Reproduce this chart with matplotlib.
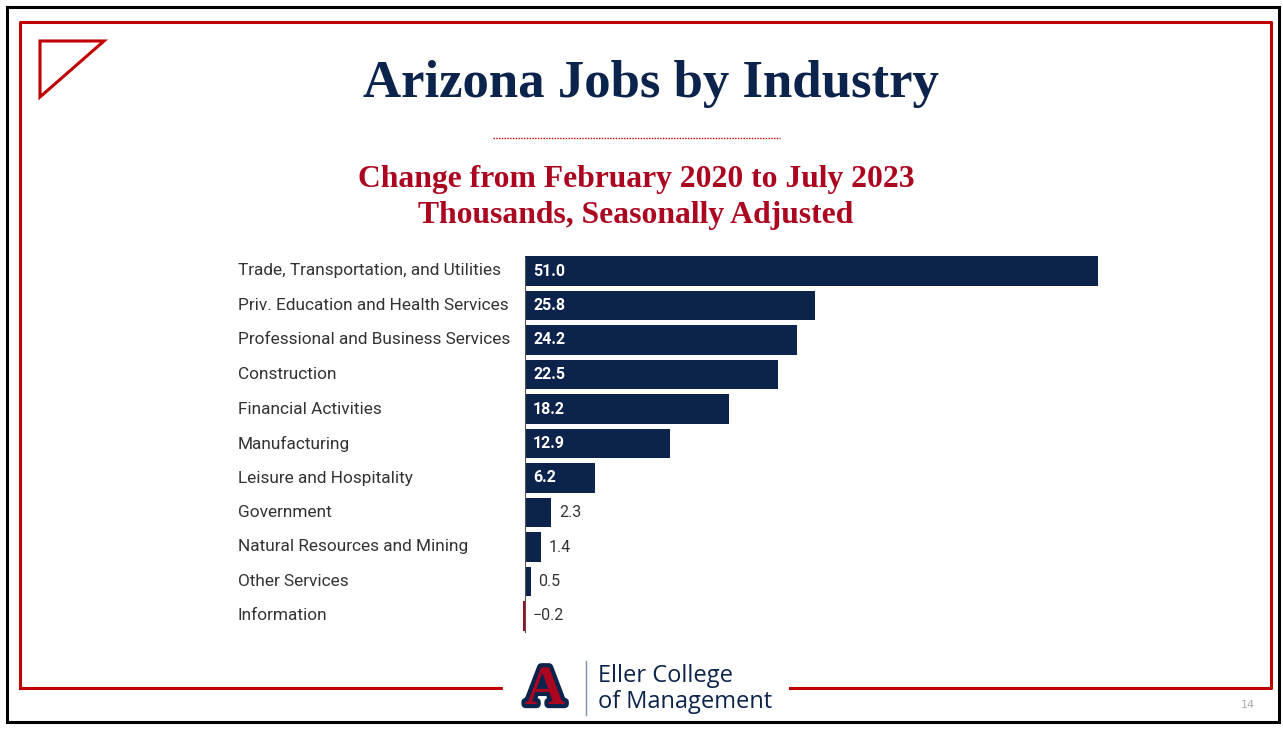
import matplotlib
matplotlib.use("Agg")
import matplotlib.pyplot as plt
import matplotlib.patheffects as pe
from matplotlib.patches import Polygon, Rectangle
from matplotlib.lines import Line2D

# data
industries = ["Trade, Transportation, and Utilities",
              "Priv. Education and Health Services",
              "Professional and Business Services",
              "Construction",
              "Financial Activities",
              "Manufacturing",
              "Leisure and Hospitality",
              "Government",
              "Natural Resources and Mining",
              "Other Services",
              "Information"]
change = [51.0, 25.8, 24.2, 22.5, 18.2, 12.9, 6.2, 2.3, 1.4, 0.5, -0.2]

title = "Arizona Jobs by Industry"
subtitle_1 = "Change from February 2020 to July 2023"
subtitle_2 = "Thousands, Seasonally Adjusted"

NAVY = "#0C234B"
RED = "#C00000"
TITLE_RED = "#AB0520"
W, H = 1283, 730

fig = plt.figure(figsize=(W / 100, H / 100), dpi=100)
fig.patch.set_facecolor("white")

def fx(px):
    return px / W

def fy(py):
    return 1 - py / H

# slide frame
fig.add_artist(Rectangle((fx(7), fy(722)), fx(1279) - fx(7), fy(7) - fy(722),
                         transform=fig.transFigure, fill=False, ec="black", lw=2.2))
fig.add_artist(Line2D([fx(20), fx(20), fx(1271), fx(1271), fx(790)],
                      [fy(688), fy(22), fy(22), fy(688), fy(688)],
                      transform=fig.transFigure, color=RED, lw=2.2))
fig.add_artist(Line2D([fx(20), fx(502)], [fy(688), fy(688)],
                      transform=fig.transFigure, color=RED, lw=2.2))
fig.add_artist(Polygon([(fx(40), fy(41)), (fx(104), fy(41)), (fx(40), fy(97))],
                       closed=True, transform=fig.transFigure, fill=False,
                       ec=RED, lw=2.2))

# titles
fig.text(fx(651), fy(84), title, ha="center", va="center", fontsize=38,
         fontweight="bold", family="Liberation Serif", color=NAVY)
fig.add_artist(Line2D([fx(493), fx(780)], [fy(138), fy(138)],
                       transform=fig.transFigure, color=RED, lw=1.0,
                       linestyle=(0, (1, 1))))
fig.text(fx(636), fy(180), subtitle_1, ha="center", va="center", fontsize=22.8,
         fontweight="bold", family="Liberation Serif", color=TITLE_RED)
fig.text(fx(636), fy(216), subtitle_2, ha="center", va="center", fontsize=22.8,
         fontweight="bold", family="Liberation Serif", color=TITLE_RED)

# bar chart
ax_l, ax_r, ax_t, ax_b = 480, 1130, 250, 640
ax = fig.add_axes([fx(ax_l), fy(ax_b), fx(ax_r) - fx(ax_l), fy(ax_t) - fy(ax_b)])
scale = 573 / 51.0
x0 = 525
ax.set_xlim((ax_l - x0) / scale, (ax_r - x0) / scale)
row0, step = 271, 34.5
ax.set_ylim((ax_b - row0) / step, (ax_t - row0) / step)

pos = list(range(len(industries)))
colors = [NAVY if v >= 0 else TITLE_RED for v in change]
ax.barh(pos, change, height=0.86, color=colors)
ax.axvline(0, color="#555555", lw=0.8, ymin=(ax_b - 632) / (ax_b - ax_t),
           ymax=(ax_b - 257) / (ax_b - ax_t))
ax.axis("off")

for i, v in enumerate(change):
    if v >= 5:
        ax.text(8 / scale, i, f"{v:.1f}", ha="left", va="center", color="white",
                fontsize=11.5, fontweight="bold", family="Roboto")
    else:
        xt = max(v, 0) + 8 / scale
        lab = f"{v:.1f}".replace("-", "\u2212")
        ax.text(xt, i, lab, ha="left", va="center", color="#333333",
                fontsize=11.5, family="Roboto")
    fig.text(fx(238), fy(row0 + step * i), industries[i], ha="left", va="center",
             color="#333333", fontsize=12.4, family="Roboto")

# logo
fig.add_artist(Rectangle((fx(503), fy(716)), fx(787) - fx(503), fy(655) - fy(716),
                         transform=fig.transFigure, color="white", zorder=5))
fig.text(fx(545), fy(690), "A", ha="center", va="center", fontsize=40,
         fontweight="bold", family="Liberation Serif", color=TITLE_RED, zorder=6,
         path_effects=[pe.withStroke(linewidth=6, foreground=NAVY)])
fig.add_artist(Line2D([fx(586), fx(586)], [fy(661), fy(715)],
                      transform=fig.transFigure, color="#8090a8", lw=1, zorder=6))
fig.text(fx(598), fy(676), "Eller College", ha="left", va="center", fontsize=17,
         family="Open Sans", color=NAVY, zorder=6)
fig.text(fx(598), fy(702), "of Management", ha="left", va="center", fontsize=17,
         family="Open Sans", color=NAVY, zorder=6)

fig.text(fx(1248), fy(705), "14", ha="center", va="center", fontsize=8,
         color="#aaaaaa")

fig.savefig("out.png", dpi=100, facecolor="white")
